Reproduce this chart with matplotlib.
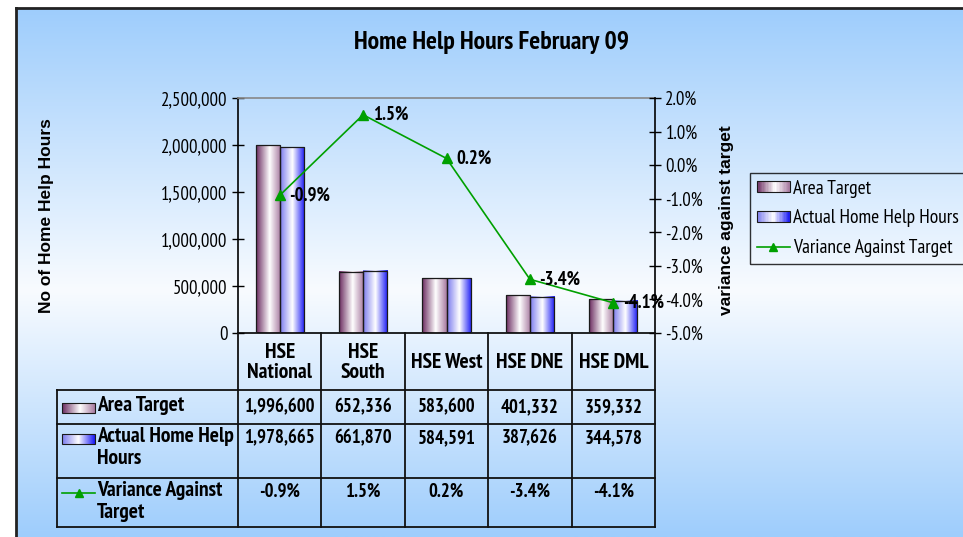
import numpy as np
import matplotlib
matplotlib.use("Agg")
import matplotlib.pyplot as plt
from matplotlib.colors import LinearSegmentedColormap
from matplotlib.patches import Rectangle
from matplotlib.legend_handler import HandlerBase
from matplotlib.lines import Line2D

# ---------------- data ----------------
categories = ["HSE\nNational", "HSE\nSouth", "HSE West", "HSE DNE", "HSE DML"]
area_target = [1996600, 652336, 583600, 401332, 359332]
actual_hours = [1978665, 661870, 584591, 387626, 344578]
variance_pct = [-0.9, 1.5, 0.2, -3.4, -4.1]
left_ticks = [0, 500000, 1000000, 1500000, 2000000, 2500000]
right_ticks = [-5, -4, -3, -2, -1, 0, 1, 2]
series_names = ["Area Target", "Actual Home Help Hours", "Variance Against Target"]
table_row_labels = ["Area Target", "Actual Home Help\nHours", "Variance Against\nTarget"]
title = "Home Help Hours February 09"
left_label = "No of Home Help Hours"
right_label = "variance against target"

NARROW = ["PT Sans Narrow", "DejaVu Sans"]
WIDE = ["Liberation Sans", "DejaVu Sans"]
plt.rcParams["font.family"] = NARROW

W, H = 963, 537
fig = plt.figure(figsize=(W / 100, H / 100), dpi=100)
fig.patch.set_facecolor("white")

GREEN = "#00a000"
cm_p = LinearSegmentedColormap.from_list("p", [(0, "#6a2a5f"), (0.55, "#ffffff"), (1, "#a77aa0")])
cm_b = LinearSegmentedColormap.from_list("b", [(0, "#7a7aee"), (0.5, "#ffffff"), (1, "#1818f5")])

# ---------------- background ----------------
bg = fig.add_axes([0, 0, 1, 1], zorder=-10)
bg.set_xlim(0, W); bg.set_ylim(H, 0); bg.axis("off")
ys = np.linspace(8, H, 400)
wgt = np.interp(ys, [8, 290, H], [0.0, 1.0, 0.0])
blue = np.array([158, 205, 252]) / 255
white = np.array([248, 251, 255]) / 255
img = (blue[None, :] * (1 - wgt[:, None]) + white[None, :] * wgt[:, None])[:, None, :]
bg.imshow(img, extent=[16, W, H, 8], aspect="auto", interpolation="bilinear")
bg.plot([16, 16], [8, H], color="#222222", lw=2)
bg.plot([16, W], [8, 8], color="#222222", lw=2)
bg.set_xlim(0, W); bg.set_ylim(H, 0)

# ---------------- main axes ----------------
ax = fig.add_axes([238 / W, 1 - 333 / H, 417 / W, 235 / H], zorder=1)
ax.set_facecolor("none")
x = np.arange(len(categories))
bw = 0.29
b1 = ax.bar(x - bw / 2, area_target, bw, facecolor="none", edgecolor="#1a1a1a", lw=0.9, zorder=3)
b2 = ax.bar(x + bw / 2, actual_hours, bw, facecolor="none", edgecolor="#1a1a1a", lw=0.9, zorder=3)
grad = np.linspace(0, 1, 128).reshape(1, -1)
for bars, cm in ((b1, cm_p), (b2, cm_b)):
    for p in bars:
        x0, y0, w, h = p.get_x(), p.get_y(), p.get_width(), p.get_height()
        ax.imshow(grad, cmap=cm, extent=[x0, x0 + w, y0, y0 + h], aspect="auto",
                  interpolation="bilinear", zorder=2)
ax.set_xlim(-0.5, len(categories) - 0.5)
ax.set_ylim(left_ticks[0], left_ticks[-1])
ax.set_yticks(left_ticks)
ax.set_yticklabels([f"{v:,.0f}" for v in left_ticks], fontsize=13.5)
ax.set_xticks([])
ax.tick_params(axis="y", direction="inout", length=9, width=1, pad=3)
for s in ("left", "bottom"):
    ax.spines[s].set_color("black"); ax.spines[s].set_linewidth(1.2)
ax.spines["top"].set_color("#888888"); ax.spines["top"].set_linewidth(1.2)
ax.spines["right"].set_visible(False)
ax.set_ylabel(left_label, family=WIDE, fontweight="bold", fontsize=12.5, labelpad=0)
ax.yaxis.set_label_coords((54 - 238) / 417, 0.5)

ax2 = ax.twinx()
ax2.set_facecolor("none")
line, = ax2.plot(x, variance_pct, color=GREEN, lw=1.2, marker="^", ms=7, zorder=4)
ax2.set_ylim(right_ticks[0], right_ticks[-1])
ax2.set_yticks(right_ticks)
ax2.set_yticklabels([f"{v:.1f}%" for v in right_ticks], fontsize=13.5)
ax2.tick_params(axis="y", direction="inout", length=9, width=1, pad=3)
ax2.spines["right"].set_color("black"); ax2.spines["right"].set_linewidth(1.2)
for s in ("top", "left", "bottom"):
    ax2.spines[s].set_visible(False)
ax2.set_ylabel(right_label, family=WIDE, fontweight="bold", fontsize=12.5)
ax2.yaxis.set_label_coords((719 - 238) / 417, 0.48)
for xi, v in zip(x, variance_pct):
    ax2.annotate(f"{v:.1f}%", (xi, v), xytext=(7, 0), textcoords="offset points",
                 ha="left", va="center", fontweight="bold", fontsize=13.5, zorder=5)

fig.text(491 / W, 1 - 42 / H, title, ha="center", va="center", fontweight="bold", fontsize=18.5)

# ---------------- legend ----------------
class GradHandler(HandlerBase):
    def __init__(self, cmap):
        super().__init__()
        self.cmap = cmap

    def create_artists(self, legend, orig_handle, xdescent, ydescent, width, height, fontsize, trans):
        n = 24
        arts = []
        for k in range(n):
            arts.append(Rectangle((-xdescent + width * k / n, -ydescent), width / n + 0.3, height,
                                  facecolor=self.cmap((k + 0.5) / n), edgecolor="none", transform=trans))
        arts.append(Rectangle((-xdescent, -ydescent), width, height, facecolor="none",
                              edgecolor="#1a1a1a", lw=0.8, transform=trans))
        return arts

p1 = Rectangle((0, 0), 1, 1)
p2 = Rectangle((0, 0), 1, 1)
lh = Line2D([], [], color=GREEN, lw=1.2, marker="^", ms=6)
leg = fig.legend([p1, p2, lh], series_names, loc="upper left",
                 bbox_to_anchor=(750 / W, 1 - 173 / H), fontsize=14, frameon=True,
                 fancybox=False, edgecolor="black", facecolor="none", framealpha=None,
                 handler_map={p1: GradHandler(cm_p), p2: GradHandler(cm_b)},
                 handlelength=1.7, handleheight=0.5, handletextpad=0.15,
                 labelspacing=0.6, borderpad=0.35, borderaxespad=0)
leg.get_frame().set_linewidth(1.0)

# ---------------- data table ----------------
to = fig.add_axes([0, 0, 1, 1], zorder=5)
to.set_xlim(0, W); to.set_ylim(H, 0); to.axis("off")
to.set_facecolor("none")

def disp_to_pix(pt):
    return to.transData.inverted().transform(ax.transData.transform(pt))

xb = [disp_to_pix((i - 0.5, 0))[0] for i in range(len(categories) + 1)]
y_axis = disp_to_pix((0, 0))[1]
t_left = 57
row_edges = [390, 424, 478, 527]
lc = "#111111"
for xv in xb:
    to.plot([xv, xv], [y_axis, row_edges[-1]], color=lc, lw=1.3)
to.plot([t_left, t_left], [row_edges[0], row_edges[-1]], color=lc, lw=1.3)
for yv in row_edges:
    to.plot([t_left, xb[-1]], [yv, yv], color=lc, lw=1.3)

for i, c in enumerate(categories):
    cx = (xb[i] + xb[i + 1]) / 2
    to.text(cx, (y_axis + row_edges[0]) / 2 + 1, c, ha="center", va="center",
            multialignment="center", fontweight="bold", fontsize=15.5, linespacing=1.12)

rows_vals = [[f"{v:,}" for v in area_target], [f"{v:,}" for v in actual_hours],
             [f"{v:.1f}%" for v in variance_pct]]
first_line_y = [407, 438, 492]
for r, vals in enumerate(rows_vals):
    for i, s in enumerate(vals):
        cx = (xb[i] + xb[i + 1]) / 2
        to.text(cx, first_line_y[r], s, ha="center", va="center", fontweight="bold", fontsize=13.5)
    to.text(97, first_line_y[r] - 11, table_row_labels[r], ha="left", va="top",
            fontweight="bold", fontsize=15.5, linespacing=1.2)

icon_x0, icon_x1 = 62, 95
for r, cm in ((0, cm_p), (1, cm_b)):
    yc = first_line_y[r] + 1
    to.imshow(grad, cmap=cm, extent=[icon_x0, icon_x1, yc + 5, yc - 5], aspect="auto",
              interpolation="bilinear", zorder=6)
    to.add_patch(Rectangle((icon_x0, yc - 5), icon_x1 - icon_x0, 10, facecolor="none",
                           edgecolor="#1a1a1a", lw=0.8, zorder=7))
yc = first_line_y[2] + 1
to.plot([icon_x0, icon_x1], [yc, yc], color=GREEN, lw=1.2, zorder=7)
to.plot([(icon_x0 + icon_x1) / 2], [yc], color=GREEN, marker="^", ms=6, zorder=7)
to.set_xlim(0, W); to.set_ylim(H, 0)

fig.savefig("out.png", dpi=100)
